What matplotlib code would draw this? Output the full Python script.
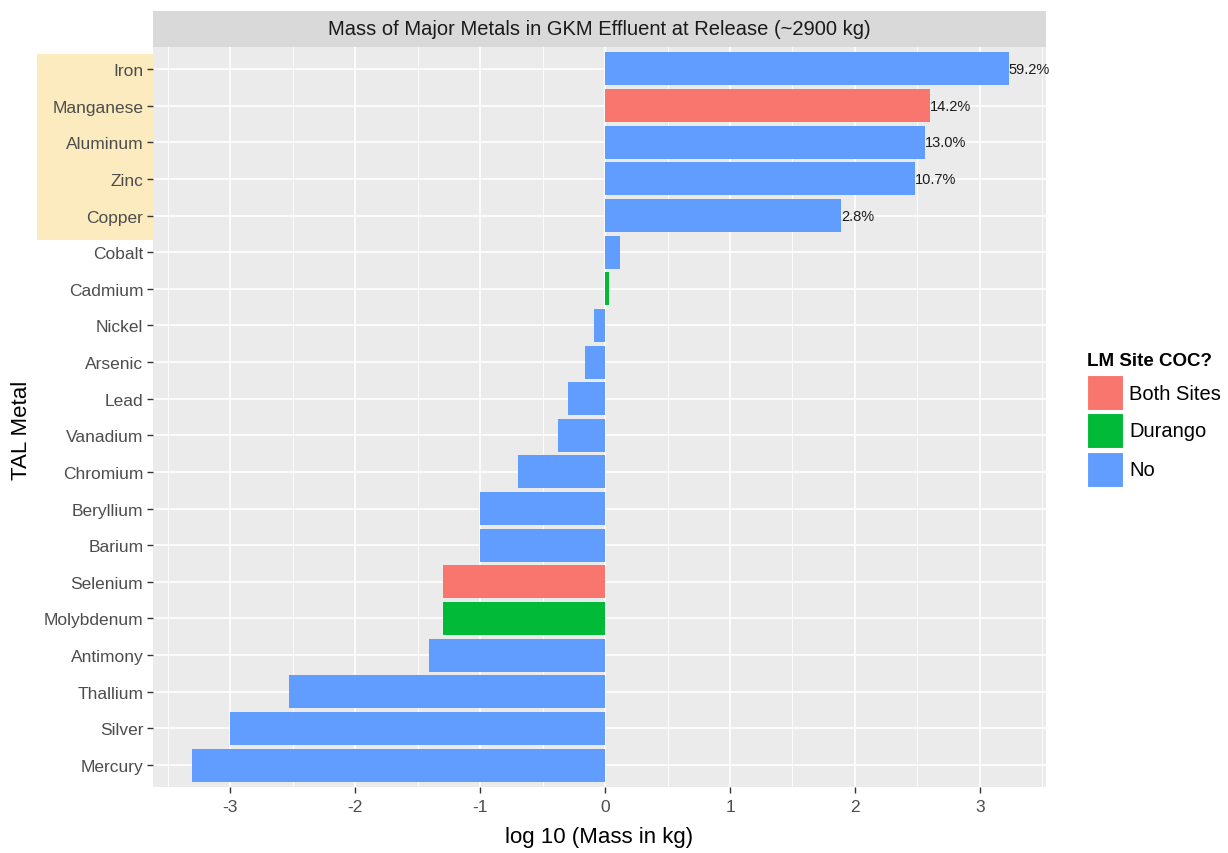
import matplotlib
matplotlib.use("Agg")
import matplotlib.pyplot as plt
from matplotlib.patches import Rectangle

plt.rcParams['font.family'] = ['Liberation Sans', 'DejaVu Sans']

# Metals from top to bottom, log10 of mass (kg), LM site COC class
metals = ["Iron", "Manganese", "Aluminum", "Zinc", "Copper", "Cobalt", "Cadmium",
          "Nickel", "Arsenic", "Lead", "Vanadium", "Chromium", "Beryllium", "Barium",
          "Selenium", "Molybdenum", "Antimony", "Thallium", "Silver", "Mercury"]
log_mass = [3.23, 2.60, 2.56, 2.48, 1.89, 0.12, 0.03,
            -0.09, -0.16, -0.30, -0.38, -0.70, -1.00, -1.00,
            -1.30, -1.30, -1.41, -2.53, -3.00, -3.31]
coc = ["No", "Both Sites", "No", "No", "No", "No", "Durango",
       "No", "No", "No", "No", "No", "No", "No",
       "Both Sites", "Durango", "No", "No", "No", "No"]
pct_labels = ["59.2%", "14.2%", "13.0%", "10.7%", "2.8%"]

coc_levels = ["Both Sites", "Durango", "No"]
coc_colors = {"Both Sites": "#F8766D", "Durango": "#00BA38", "No": "#619CFF"}

title = "Mass of Major Metals in GKM Effluent at Release (~2900 kg)"

W, H = 1228, 854
fig = plt.figure(figsize=(W / 100, H / 100), dpi=100)
fig.patch.set_facecolor("white")


def fx(px):
    return px / W


def fy(py):
    return 1 - py / H


ax = fig.add_axes([fx(153), fy(788), fx(1046 - 153), (788 - 48) / H])
ax.set_facecolor("#EBEBEB")

n = len(metals)
ypos = [n - 1 - i for i in range(n)]

ax.set_xlim(-3.62, 3.53)
ax.set_ylim(-0.6, n - 0.4)

# panel grid
for x in [-3.5, -2.5, -1.5, -0.5, 0.5, 1.5, 2.5, 3.5]:
    ax.axvline(x, color="white", lw=0.6, zorder=0)
for x in range(-3, 4):
    ax.axvline(x, color="white", lw=1.2, zorder=0)
for y in ypos:
    ax.axhline(y, color="white", lw=1.2, zorder=0)

bar_colors = [coc_colors[c] for c in coc]
ax.barh(ypos, log_mass, height=0.9, color=bar_colors, zorder=2)

for i, lab in enumerate(pct_labels):
    ax.text(log_mass[i], ypos[i], lab, ha="left", va="center", fontsize=10.5,
            color="#1A1A1A", zorder=3)

ax.set_yticks(ypos)
ax.set_yticklabels(metals, fontsize=12.5, color="#4D4D4D")
ax.set_xticks(range(-3, 4))
ax.set_xticklabels([str(v) for v in range(-3, 4)], fontsize=12.5, color="#4D4D4D")
ax.tick_params(axis="x", length=4, width=1, color="#333333", pad=5)
ax.tick_params(axis="y", length=4, width=1, color="#333333", pad=3)
for s in ax.spines.values():
    s.set_visible(False)

# axis titles
fig.text(fx(599), fy(838), "log 10 (Mass in kg)", ha="center", va="center",
         fontsize=16, color="black")
fig.text(fx(22), fy(430), "TAL Metal", rotation=90, ha="center", va="center",
         fontsize=16, color="black")

# highlight behind the top five labels
fig.patches.append(Rectangle((fx(37), fy(241)), fx(153 - 37), (241 - 55) / H,
                             transform=fig.transFigure, facecolor="#FCEBBF",
                             edgecolor="none", zorder=-1))

# facet strip with title
strip = fig.add_axes([fx(153), fy(48), fx(1046 - 153), 36 / H])
strip.set_facecolor("#D9D9D9")
strip.set_xticks([])
strip.set_yticks([])
for s in strip.spines.values():
    s.set_visible(False)
strip.text(0.5, 0.5, title, ha="center", va="center", fontsize=14.5,
           color="#1A1A1A", transform=strip.transAxes)

# legend
fig.text(fx(1087), fy(362), "LM Site COC?", ha="left", va="center",
         fontsize=13.5, fontweight="bold", color="black")
key_tops = [376, 414, 453]
for lvl, top in zip(coc_levels, key_tops):
    fig.patches.append(Rectangle((fx(1087), fy(top + 35)), fx(36), 35 / H,
                                 transform=fig.transFigure, facecolor=coc_colors[lvl],
                                 edgecolor="white", lw=0.8))
    fig.text(fx(1129), fy(top + 18), lvl, ha="left", va="center",
             fontsize=14.5, color="black")

fig.savefig("out.png", dpi=100)
